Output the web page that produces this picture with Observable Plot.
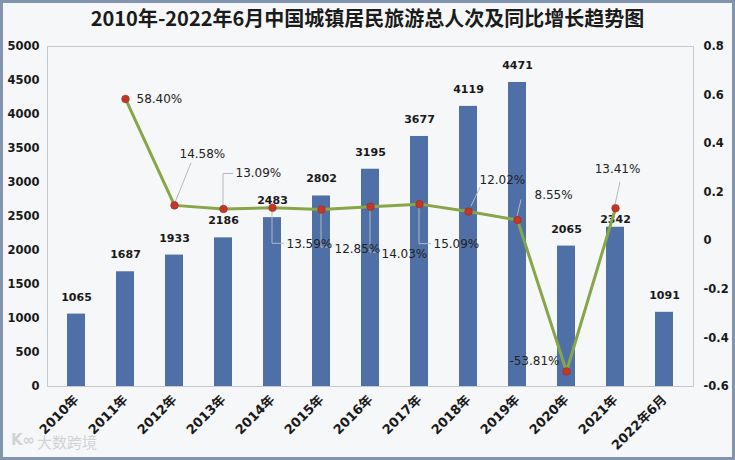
<!DOCTYPE html>
<html>
<head>
<meta charset="utf-8">
<script src="https://cdn.jsdelivr.net/npm/d3@7"></script>
<script src="https://cdn.jsdelivr.net/npm/@observablehq/plot@0.6"></script>
<style>
  html, body { margin: 0; padding: 0; background: #f6f7f8; }
  #frame { position: relative; width: 735px; height: 460px; box-sizing: border-box;
    border: 3px solid #8196ae; background: #f6f7f8; overflow: hidden; }
  #title { height: 37px; line-height: 40px; text-align: center; color: #1b1b1b;
    font: bold 20px "Noto Sans CJK SC", "DejaVu Sans", sans-serif; white-space: nowrap; }
  #chart { height: 417px; }
  #wm { position: absolute; left: 34px; top: 428px; font: 15px "Noto Sans CJK SC", sans-serif;
    color: #d0d3d6; }
  #wmlogo { position: absolute; left: 8px; top: 428px; font: bold 15px "DejaVu Sans", sans-serif; color: #d0d3d6; }
</style>
</head>
<body>
<div id="frame">
  <div id="title">2010年-2022年6月中国城镇居民旅游总人次及同比增长趋势图</div>
  <div id="chart"></div>
  <div id="wmlogo">K∞</div>
  <div id="wm">大数跨境</div>
</div>
<script>
// ---- data ----
const years = ["2010年","2011年","2012年","2013年","2014年","2015年","2016年","2017年","2018年","2019年","2020年","2021年","2022年6月"];
const trips = [1065, 1687, 1933, 2186, 2483, 2802, 3195, 3677, 4119, 4471, 2065, 2342, 1091];
const growth = [null, 0.5840, 0.1458, 0.1309, 0.1359, 0.1285, 0.1403, 0.1509, 0.1202, 0.0855, -0.5381, 0.1341, null];
const growthLabels = [null, "58.40%", "14.58%", "13.09%", "13.59%", "12.85%", "14.03%", "15.09%", "12.02%", "8.55%", "-53.81%", "13.41%", null];
const leftTicks = [0, 500, 1000, 1500, 2000, 2500, 3000, 3500, 4000, 4500, 5000];
const rightTicks = [-0.6, -0.4, -0.2, 0, 0.2, 0.4, 0.6, 0.8];

// ---- label placement (pixel offsets from each point; layout only) ----
const labelPlace = {
  "2011年": [11, 0, "start"],
  "2012年": [5, -51, "start"],
  "2013年": [12, -36, "start"],
  "2014年": [14, 36, "start"],
  "2015年": [13, 40, "start"],
  "2016年": [11, 47, "start"],
  "2017年": [14, 40, "start"],
  "2018年": [11, -31, "start"],
  "2019年": [17, -25, "start"],
  "2020年": [-7, -10, "end"],
  "2021年": [2, -39, "middle"]
};
const leaderPlace = {
  "2012年": [[0, 0], [17, -42]],
  "2013年": [[0, -2], [0, -35], [10, -35]],
  "2014年": [[0, 2], [0, 36], [12, 36]],
  "2015年": [[0, 2], [0, 38], [11, 38]],
  "2016年": [[0, 2], [0, 46], [9, 46]],
  "2017年": [[0, 2], [0, 40], [12, 40]],
  "2018年": [[3, -5], [12, -24]],
  "2019年": [[0, -3], [4, -20]],
  "2021年": [[0, -3], [5, -26]]
};

// ---- build tables ----
const R0 = -0.6, R1 = 0.8, L1 = 5000;
const toLeft = g => (g - R0) / (R1 - R0) * L1;
const fromLeft = v => v / L1 * (R1 - R0) + R0;

const bars = years.map((year, i) => ({year, value: trips[i]}));
const pts = years.map((year, i) => ({year, g: growth[i], label: growthLabels[i]})).filter(d => d.g != null);

const barColor = "#4f70a6";
const lineColor = "#86a648";
const dotColor = "#c2372a";

const leaderMark = (index, scales) => {
  const g = d3.create("svg:g").attr("stroke", "#b4b9bf").attr("stroke-width", 1).attr("fill", "none");
  const bw = scales.x.bandwidth ? scales.x.bandwidth() / 2 : 0;
  for (const d of pts) {
    const path = leaderPlace[d.year];
    if (!path) continue;
    const cx = scales.x(d.year) + bw, cy = scales.y(toLeft(d.g));
    g.append("path").attr("d", "M" + path.map(([a, b]) => `${cx + a},${cy + b}`).join("L"));
  }
  return g.node();
};

const pctMarks = pts.map(d => {
  const [dx, dy, anchor] = labelPlace[d.year];
  return Plot.text([d], {x: "year", y: dd => toLeft(dd.g), text: "label", dx, dy, textAnchor: anchor,
    fontWeight: "normal", fontSize: 12, fill: "#222"});
});

const chart = Plot.plot({
  width: 729,
  height: 417,
  marginLeft: 44,
  marginRight: 39,
  marginTop: 6,
  marginBottom: 71,
  style: {fontFamily: "'DejaVu Sans', 'Noto Sans CJK SC', sans-serif", fontSize: "11px", fontWeight: "bold", background: "transparent", color: "#1a1a1a"},
  x: {type: "band", domain: years, paddingInner: 0.64, paddingOuter: 0.32, label: null},
  y: {domain: [0, L1], label: null},
  marks: [
    Plot.frame({stroke: "#c5cad0"}),
    Plot.barY(bars, {x: "year", y: "value", fill: barColor}),
    Plot.text(bars.filter(d => d.year !== "2021年"), {x: "year", y: "value", text: d => String(d.value), dy: -17, fill: "#1a1a1a"}),
    Plot.text(bars.filter(d => d.year === "2021年"), {x: "year", y: "value", text: d => String(d.value), dy: -8, fill: "#1a1a1a"}),
    leaderMark,
    Plot.line(pts, {x: "year", y: d => toLeft(d.g), stroke: lineColor, strokeWidth: 3}),
    Plot.dot(pts, {x: "year", y: d => toLeft(d.g), r: 3.8, fill: dotColor, stroke: "#9a2a20", strokeWidth: 0.6}),
    ...pctMarks,
    Plot.axisY({ticks: leftTicks, tickSize: 0, tickPadding: 8, label: null, fontSize: 11.5, tickFormat: d => String(d)}),
    Plot.axisY({anchor: "right", ticks: rightTicks.map(toLeft), tickSize: 0, tickPadding: 10, label: null,
      tickFormat: v => String(Math.round(fromLeft(v) * 10) / 10), fontSize: 11.5}),
    Plot.axisX({tickSize: 0, tickRotate: -45, tickPadding: 11, label: null, fontSize: 13})
  ]
});
document.getElementById("chart").appendChild(chart);
</script>
</body>
</html>
